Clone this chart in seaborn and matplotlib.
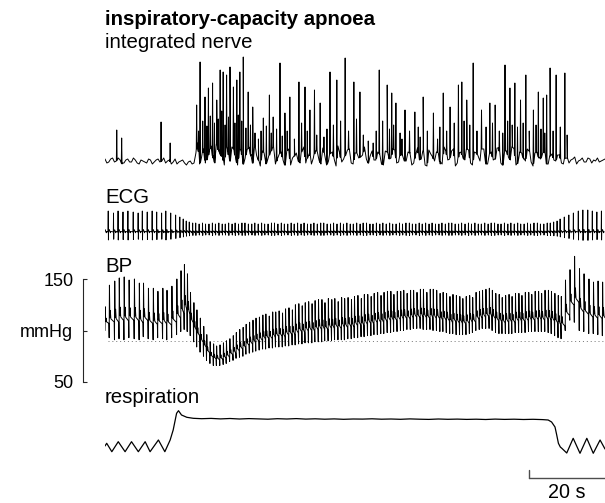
import numpy as np
import pandas as pd
import matplotlib
matplotlib.use("Agg")
import matplotlib.pyplot as plt
import seaborn as sns

# ---------------- data ----------------
T_TOTAL = 132.0          # seconds shown
SCALE_BAR_S = 20         # time scale bar

# integrated nerve: baseline sampled every 1 s (t = 0, 1, ...) and at half seconds (t = 0.5, 1.5, ...)
nerve_base = [2, -1, 3, 0, 1, -2, 2, -1, 1, -3, 0, -2, 1, -1, 2, 0, -2, 1, -1, -3, 0, -2, -1, -3,
              8, -3, 12, 2, 15, -2, 10, 4, 16, 0,
              12, -4, 9, 3, 14, -2, 6, -5, 8, 2,
              11, -3, 7, 1, 10, -4, 5, 0, 12, -2,
              8, 3, 10, -3, 6, 0, 9, -5, 7, 2,
              11, -2, 8, 3, 6, 2, 5, 1, 9, -3,
              10, 2, 12, -2, 7, 0, 9, -4, 6, 1,
              10, -5, 7, 0, 8, -3, 10, 2, 12, -2,
              9, 1, 11, -4, 8, 0, 12, -3, 9, 2,
              13, -4, 10, 1, 12, -2, 8, 0, 10, -5,
              9, 2, 11, -3, 7, 0, 6, -3,
              3, 1, 4, 0, 3, -1, 2, 1, 3, 0, 2]
nerve_base_half = [-2, 2, -1, 3, -3, 1, -1, 3, -2, 1, -1, 2, -3, 1, -1, 3, 0, -3, 2, -1, 1, -4, 0, -2,
                   18, 4, -2, 9, 3, 17, 6, -4, 8, 14,
                   2, 13, -3, 11, 5, 16, 1, 10, -3, 7,
                   15, 2, 9, -4, 12, 3, 8, -2, 14, 4,
                   -3, 10, 1, 13, -4, 9, 2, 15, -1, 6,
                   12, -3, 8, 4, 14, -2, 10, 1, 7, -4,
                   9, 3, 11, -1, 6, 0, 8, -2, 13, 2,
                   -4, 11, 4, 9, -3, 14, 1, 10, -5, 8,
                   3, 12, -2, 9, 5, 15, -3, 7, 1, 13,
                   -2, 10, 4, 14, -4, 9, 2, 12, -1, 8,
                   3, 7, -3, 5, 1, 6, -2, 4,
                   -2, 2, -3, 1, -1, 3, -2, 0, -1, 1]
nerve_peak_t = [3.1, 4.4, 14.8, 17.2,
                24.2, 25.1, 26.4, 27.3, 28.4, 29.5, 30.4, 31.2, 32.1, 33.0, 33.9, 34.8, 35.6, 36.5,
                37.8, 39.0, 41.8, 43.4, 44.4, 46.2, 47.5, 48.8, 51.2, 52.8, 54.1, 55.3, 56.8, 59.4,
                61.2, 63.4, 65.7, 67.3, 72.4, 74.5, 75.7, 76.8, 79.2, 81.8, 84.0, 86.7, 89.3, 91.1,
                93.3, 94.2, 95.5, 97.2, 99.4, 101.6, 103.0, 105.6, 106.9, 108.2, 109.7, 111.1, 113.1,
                114.4, 115.7, 116.6, 117.5, 119.1, 121.4,
                24.7, 25.8, 26.9, 27.8, 28.9, 29.9, 30.8, 31.7, 32.6, 34.3, 35.2, 36.1, 37.2, 38.4,
                39.6, 40.5, 41.2, 42.6, 43.9, 45.3, 46.8, 48.1, 50.0, 51.9, 53.4, 55.9, 57.8, 58.6,
                60.3, 62.2, 64.3, 66.4, 68.2, 69.5, 70.8, 71.6, 73.3, 75.1, 76.2, 77.9, 78.4, 80.4,
                82.7, 83.2, 85.1, 87.8, 88.4, 90.2, 92.2, 94.8, 96.3, 98.2, 100.6, 102.3, 104.1,
                105.0, 106.3, 107.5, 108.9, 110.4, 112.0, 113.8, 115.1, 116.1, 118.3, 120.2, 122.0]
nerve_peak_v = [31, 23, 39, 18,
                56, 99, 64, 73, 78, 61, 91, 89, 86, 94, 74, 81, 89, 104,
                69, 54, 43, 66, 44, 98, 48, 64, 79, 74, 51, 71, 58, 89,
                81, 103, 79, 69, 91, 76, 68, 58, 51, 49, 64, 48, 68, 54,
                76, 79, 61, 98, 51, 58, 56, 96, 73, 78, 61, 86, 51,
                69, 63, 66, 93, 86, 88,
                30, 40, 35, 45, 38, 42, 50, 36, 44, 38, 46, 40, 33, 36,
                28, 22, 30, 35, 28, 32, 25, 30, 22, 38, 30, 26, 24, 32,
                36, 40, 30, 42, 26, 20, 18, 30, 40, 32, 36, 28, 22, 30,
                34, 24, 30, 22, 34, 30, 38, 40, 36, 30, 34, 38, 30,
                28, 40, 36, 34, 38, 30, 36, 32, 28, 30, 34, 26]

# heart beats (s)
beat_t = [0.0, 1.1, 2.5, 3.7, 5.0, 6.3, 7.7, 9.0, 10.1, 11.4, 12.7, 13.9, 15.2, 16.3, 17.6, 18.9, 20.0, 20.9, 21.7,
          22.5, 23.4, 24.2, 25.1, 26.0, 26.8, 27.7, 28.6, 29.4, 30.3,
          31.2, 32.0, 32.9, 33.8, 34.6, 35.5, 36.4, 37.2, 38.1, 39.0,
          39.8, 40.7, 41.6, 42.4, 43.3, 44.2, 45.0, 45.9, 46.8, 47.6,
          48.5, 49.4, 50.2, 51.1, 52.0, 52.8, 53.7, 54.6, 55.4, 56.3,
          57.2, 58.0, 58.9, 59.8, 60.6, 61.5, 62.4, 63.2, 64.1, 65.0,
          65.8, 66.7, 67.6, 68.4, 69.3, 70.2, 71.0, 71.9, 72.8, 73.6,
          74.5, 75.4, 76.2, 77.1, 78.0, 78.8, 79.7, 80.6, 81.4, 82.3,
          83.2, 84.0, 84.9, 85.8, 86.6, 87.5, 88.4, 89.2, 90.1, 91.0,
          91.8, 92.7, 93.6, 94.4, 95.3, 96.2, 97.0, 97.9, 98.8, 99.6,
          100.5, 101.4, 102.2, 103.1, 104.0, 104.8, 105.7, 106.6, 107.4, 108.3,
          109.2, 110.0, 110.9, 111.8, 112.6, 113.5, 114.4, 115.2, 116.1, 117.0,
          117.8, 118.7, 119.6, 120.4,
          121.5, 122.7, 123.9, 125.2, 126.4, 127.7, 128.9, 130.1, 131.3]
bp_sys = [123, 144, 148, 151, 152, 149, 150, 146, 146, 141, 141, 138, 141, 139, 143, 150, 158, 164, 155,
          137, 127, 120, 112, 104, 96, 89, 87, 85, 86,
          88, 90, 92, 95, 98, 101, 103, 106, 108, 110,
          112, 113, 115, 116, 114, 118, 118, 119, 117, 121,
          122, 120, 125, 126, 124, 127, 128, 126, 129, 130,
          130, 127, 131, 130, 131, 128, 132, 131, 132, 130,
          133, 134, 131, 135, 135, 133, 136, 137, 134, 137,
          138, 138, 135, 138, 138, 139, 136, 139, 139, 137,
          140, 140, 137, 140, 140, 139, 136, 137, 136, 133,
          135, 134, 133, 131, 133, 134, 132, 137, 138, 139,
          140, 141, 139, 136, 135, 132, 134, 135, 133, 136,
          136, 134, 137, 137, 135, 138, 138, 136, 139, 139,
          138, 136, 134, 133,
          149, 159, 172, 160, 155, 150, 147, 148, 147]
bp_dia = [100, 93, 91, 92, 91, 93, 92, 91, 94, 92, 91, 93, 92, 91, 93, 96, 99, 101, 99,
          95, 89, 84, 79, 75, 71, 68, 66, 66, 66,
          67, 68, 70, 71, 73, 74, 75, 77, 78, 79,
          80, 81, 82, 82, 83, 83, 84, 84, 84, 85,
          85, 86, 86, 87, 87, 88, 88, 88, 89, 89,
          89, 90, 90, 90, 91, 91, 91, 91, 92, 92,
          93, 93, 94, 94, 95, 95, 96, 96, 97, 97,
          98, 98, 99, 99, 100, 100, 101, 101, 102, 102,
          102, 101, 101, 101, 100, 100, 99, 99, 98, 97,
          97, 96, 96, 96, 96, 97, 98, 100, 101, 102,
          102, 102, 100, 98, 97, 97, 97, 97, 97, 98,
          98, 98, 98, 99, 99, 99, 99, 99, 99, 98,
          97, 95, 93, 92,
          100, 110, 108, 100, 99, 97, 97, 96, 95]
ecg_r = [20, 21, 19, 21, 20, 21, 20, 19, 21, 20, 21, 20, 19, 21, 19, 17, 15, 13, 11,
         10, 9, 9, 8, 9, 8, 8, 9, 8, 9,
         8, 8, 9, 8, 9, 8, 9, 9, 8, 8,
         9, 8, 9, 8, 8, 9, 9, 8, 9, 8,
         8, 9, 8, 9, 8, 9, 8, 8, 9, 8,
         9, 9, 8, 8, 9, 8, 9, 8, 9, 8,
         8, 9, 8, 9, 9, 8, 8, 9, 8, 9,
         8, 9, 8, 8, 9, 8, 9, 9, 8, 8,
         9, 8, 9, 8, 9, 8, 8, 9, 8, 9,
         9, 8, 8, 9, 8, 9, 8, 9, 8, 8,
         9, 8, 9, 9, 8, 8, 9, 8, 9, 8,
         9, 8, 8, 9, 8, 9, 9, 8, 8, 9,
         9, 10, 11, 13,
         15, 17, 19, 21, 22, 22, 21, 20, 21]
BP_REF = 90  # dotted reference line, mmHg
bp_ticks = [50, 100, 150]
bp_ticklabels = ["50", "mmHg", "150"]

# respiration (a.u.)
resp_t = [0.0, 0.45, 1.8, 3.5, 5.3, 7.0, 8.8, 10.6, 11.9, 14.1, 15.8, 17.2, 18.0, 18.9, 19.4, 20.2, 21.6,
          23.3, 25.5, 28.0, 30.5, 33.0, 35.5, 38.0, 40.5, 43.0, 45.5, 48.0, 50.5, 53.0, 55.5, 58.0,
          60.5, 63.0, 65.5, 68.0, 70.5, 73.0, 75.5, 78.0, 80.5, 83.0, 85.5, 88.0, 90.5, 93.0, 95.5,
          98.0, 100.5, 103.0, 105.5, 108.0, 110.5, 113.0, 115.5,
          117.0, 117.9, 118.8, 119.2, 119.7, 120.2, 120.6, 121.9, 123.6, 125.4, 127.2, 128.9, 130.7, 132.0]
resp_v = [6, 8.7, 0.3, 10.3, 0.3, 10.3, 0.3, 10.3, 0.3, 12, 0.3, 12, 22, 38.7, 41.3, 37, 34.7,
          33.7, 33.3, 33.6, 33.1, 33.5, 33.0, 33.4, 33.1, 32.8, 33.3, 33.0, 33.4, 32.9, 33.2, 32.8,
          33.1, 32.7, 33.0, 32.9, 33.2, 32.8, 33.0, 32.7, 33.1, 32.8, 32.6, 33.0, 32.7, 32.9, 32.6,
          32.8, 32.5, 32.9, 32.6, 32.8, 32.5, 32.7, 32.4,
          32.0, 30.0, 25.0, 18.0, 8.7, 5.0, 3.7, -1.0, 13.7, -1.3, 13.7, -1.3, 12.0, 3.0]

# ---------------- figure ----------------
W, H = 605, 503
sns.set_style("white")
plt.rcParams["font.family"] = ["Liberation Sans", "DejaVu Sans"]
plt.rcParams["axes.facecolor"] = "none"
for k in ["text.color", "axes.labelcolor", "xtick.color", "ytick.color"]:
    plt.rcParams[k] = "black"

fig = plt.figure(figsize=(W / 100, H / 100), dpi=100)


def px_axes(top, bottom, left=105, right=605):
    return fig.add_axes([left / W, 1 - bottom / H, (right - left) / W, (bottom - top) / H])


def ftext(x, y, s, **kw):
    fig.text(x / W, 1 - y / H, s, va="baseline", ha="left", fontsize=14.7, color="black", **kw)


LINE = dict(color="black", estimator=None, sort=False, legend=False)

# --- nerve ---
ax_n = px_axes(50, 175)
bt = np.arange(len(nerve_base), dtype=float)
bth = np.arange(len(nerve_base_half), dtype=float) + 0.5
all_bt = np.concatenate([bt, bth])
all_bv = np.concatenate([nerve_base, nerve_base_half]).astype(float)
o = np.argsort(all_bt)
all_bt, all_bv = all_bt[o], all_bv[o]
n_t = list(all_bt)
n_v = list(all_bv)
for tp, vp in zip(nerve_peak_t, nerve_peak_v):
    b = float(np.interp(tp, all_bt, all_bv))
    n_t += [tp - 0.1, tp, tp + 0.1]
    n_v += [b, vp, b]
order = np.argsort(n_t, kind="stable")
df_n = pd.DataFrame({"t": np.array(n_t)[order], "v": np.array(n_v)[order]})
sns.lineplot(data=df_n, x="t", y="v", ax=ax_n, lw=0.7, **LINE)
ax_n.set_xlim(0, T_TOTAL)
ax_n.set_ylim(-14, 111)
ax_n.axis("off")

# --- ECG ---
ax_e = px_axes(200, 250)
e_t, e_v = [], []
for t0, r in zip(beat_t, ecg_r):
    tr = t0 - 0.25
    e_t += [tr - 0.06, tr, tr + 0.05, tr + 0.1, tr + 0.3, tr + 0.5, tr + 0.6, tr + 0.7]
    e_v += [0, r, -0.38 * r, 0, 0.12 * r, 0, -0.8, 0.6]
df_e = pd.DataFrame({"t": e_t, "v": e_v})
sns.lineplot(data=df_e, x="t", y="v", ax=ax_e, lw=0.65, **LINE)
ax_e.set_xlim(0, T_TOTAL)
ax_e.set_ylim(-18, 32)
ax_e.axis("off")

# --- BP ---
ax_b = px_axes(250, 395)
b_t, b_v = [], []
n = len(beat_t)
for i in range(n):
    t0 = beat_t[i]
    t1 = beat_t[i + 1] if i + 1 < n else t0 + (t0 - beat_t[i - 1])
    s, d = bp_sys[i], bp_dia[i]
    p = s - d
    b_t += [t0, t0 + 0.07, t0 + 0.18, t0 + 0.3, t0 + 0.45, t1 - 0.08]
    b_v += [d, s, d + 0.38 * p, d + 0.52 * p, d + 0.36 * p, d + 0.3 * p]
ax_b.axhline(BP_REF, xmin=3 / 500, color="0.45", lw=0.7, ls=(0, (1, 3)), zorder=1)
df_b = pd.DataFrame({"t": b_t, "v": b_v})
sns.lineplot(data=df_b, x="t", y="v", ax=ax_b, lw=0.7, zorder=2, **LINE)
ax_b.set_xlim(0, T_TOTAL)
ax_b.set_ylim(50 - 13 / 1.03, 50 + 132 / 1.03)
for sp in ["top", "right", "bottom"]:
    ax_b.spines[sp].set_visible(False)
ax_b.spines["left"].set_position(("outward", 22 * 0.72))
ax_b.spines["left"].set_bounds(50, 150)
ax_b.spines["left"].set_linewidth(0.8)
ax_b.spines["left"].set_color("0.15")
ax_b.set_xticks([])
ax_b.set_yticks(bp_ticks)
ax_b.set_yticklabels(bp_ticklabels)
ax_b.tick_params(axis="y", direction="in", length=3, width=0.8, color="0.15",
                 labelsize=13, labelcolor="black", pad=7, left=True)
ax_b.set_xlabel("")
ax_b.set_ylabel("")

# --- respiration ---
ax_r = px_axes(400, 503)
df_r = pd.DataFrame({"t": resp_t, "v": resp_v})
sns.lineplot(data=df_r, x="t", y="v", ax=ax_r, lw=0.9, **LINE)
bar_x0 = T_TOTAL - SCALE_BAR_S
ax_r.plot([bar_x0, T_TOTAL], [-26, -26], color="0.3", lw=1.0, clip_on=False)
ax_r.plot([bar_x0, bar_x0], [-26, -18], color="0.3", lw=1.0, clip_on=False)
ax_r.text(bar_x0 + SCALE_BAR_S / 2, -46.5, f"{SCALE_BAR_S} s", ha="center", va="baseline",
          fontsize=14.2, color="black", clip_on=False)
ax_r.set_xlim(0, T_TOTAL)
ax_r.set_ylim(-51, 52)
ax_r.axis("off")

# --- labels ---
ftext(105, 25, "inspiratory-capacity apnoea", fontweight="bold")
ftext(105, 48, "integrated nerve")
ftext(105, 203, "ECG")
ftext(105, 272, "BP")
ftext(105, 403, "respiration")

fig.savefig("out.png", dpi=100)
